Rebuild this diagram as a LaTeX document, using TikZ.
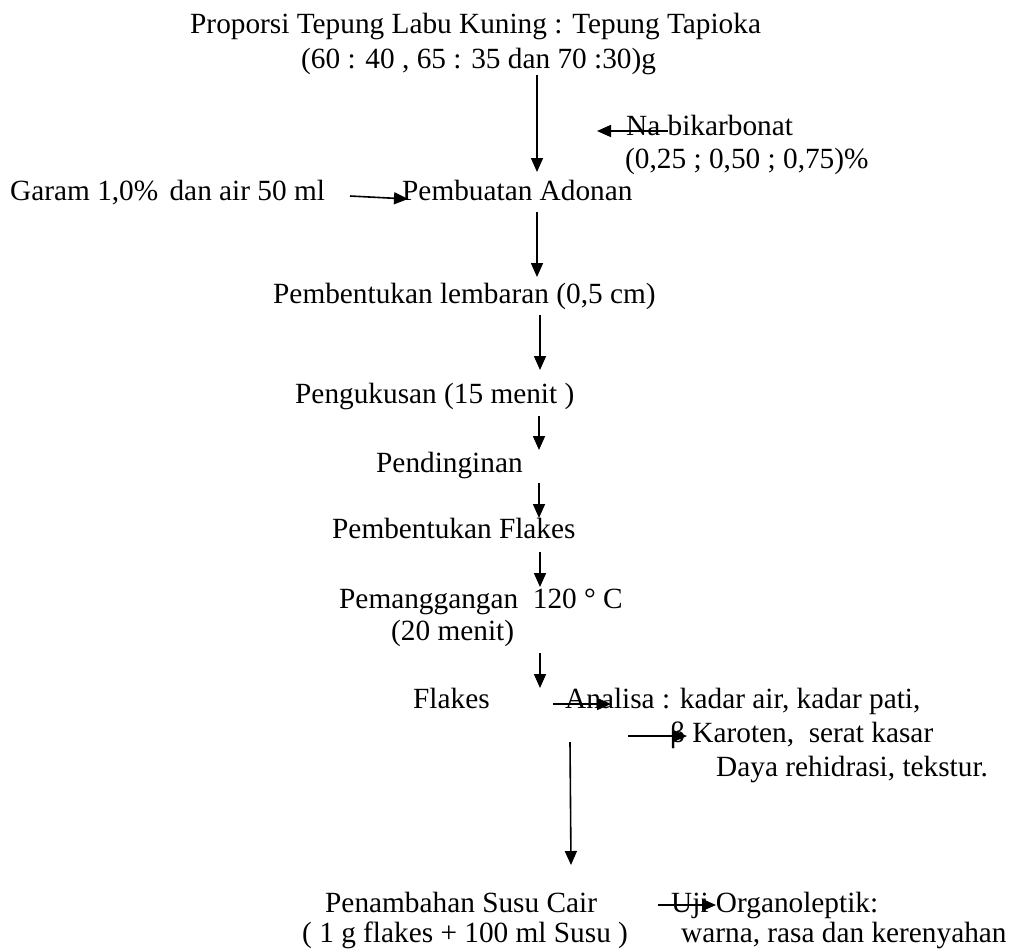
\documentclass[tikz,border=0pt]{standalone}
\usepackage{fontspec}
\setmainfont{Liberation Serif}
\usetikzlibrary{arrows.meta}
\tikzset{
  txt/.style={font=\fontsize{29.3}{31}\selectfont, inner sep=0pt, anchor=base west},
  arr/.style={line width=1.6pt, -{Triangle[length=14pt,width=12pt]}}
}
\begin{document}
\begin{tikzpicture}[x=1pt,y=-1pt]
\useasboundingbox[fill=white] (0,0) rectangle (1009,951);
% texts
\node[txt] (t1) at (190,33) {Proporsi Tepung Labu Kuning : Tepung Tapioka};
\node[txt] (t2) at (301,68) {(60 : 40 , 65 : 35 dan 70 :30)g};
\node[txt] (na) at (626,135) {Na bikarbonat};
\node[txt] (na2) at (625,168) {(0,25 ; 0,50 ; 0,75)\%};
\node[txt] (garam) at (10,200) {Garam 1,0\%\hspace{4pt} dan air 50 ml};
\node[txt] (adonan) at (402,200) {Pembuatan Adonan};
\node[txt] (lembar) at (273,303) {Pembentukan lembaran (0,5 cm)};
\node[txt] (kukus) at (295,403) {Pengukusan (15 menit )};
\node[txt] (dingin) at (376,472) {Pendinginan};
\node[txt] (bflakes) at (332,538) {Pembentukan Flakes};
\node[txt] (panggang) at (339,608) {Pemanggangan\ \ 120 ° C};
\node[txt] (menit) at (391,640) {(20 menit)};
\node[txt] (flakes) at (413,708) {Flakes};
\node[txt] (analisa) at (565,708) {Analisa : kadar air, kadar pati,};
\node[txt] (karoten) at (670,742) {β Karoten,\ \ serat kasar};
\node[txt] (daya) at (716,776) {Daya rehidrasi, tekstur.};
\node[txt] (susu) at (325,912) {Penambahan Susu Cair};
\node[txt] (susu2) at (302,942) {( 1 g flakes + 100 ml Susu )};
\node[txt] (uji) at (671,912) {Uji Organoleptik:};
\node[txt] (uji2) at (681,942) {warna, rasa dan kerenyahan};
% arrow end points
\coordinate (a1s) at (537,75);   \coordinate (a1e) at (537,172);
\coordinate (nas) at (668,131);  \coordinate (nae) at (597,131);
\coordinate (gs) at (350,196);   \coordinate (ge) at (408,199);
\coordinate (a2s) at (537,212);  \coordinate (a2e) at (537,277);
\coordinate (a3s) at (540,315);  \coordinate (a3e) at (540,370);
\coordinate (a4s) at (539,416);  \coordinate (a4e) at (539,450);
\coordinate (a5s) at (539,483);  \coordinate (a5e) at (539,518);
\coordinate (a6s) at (540,552);  \coordinate (a6e) at (540,587);
\coordinate (a7s) at (540,653);  \coordinate (a7e) at (540,688);
\coordinate (fas) at (553,704);  \coordinate (fae) at (611,704);
\coordinate (kas) at (628,736);  \coordinate (kae) at (687,736);
\coordinate (a8s) at (570,742);  \coordinate (a8e) at (571,865);
\coordinate (us) at (658,905);   \coordinate (ue) at (716,905);
% arrows
\draw[arr] (a1s) -- (a1e);
\draw[arr] (nas) -- (nae);
\draw[arr] (gs) -- (ge);
\draw[arr] (a2s) -- (a2e);
\draw[arr] (a3s) -- (a3e);
\draw[arr] (a4s) -- (a4e);
\draw[arr] (a5s) -- (a5e);
\draw[arr] (a6s) -- (a6e);
\draw[arr] (a7s) -- (a7e);
\draw[arr] (fas) -- (fae);
\draw[arr] (kas) -- (kae);
\draw[arr] (a8s) -- (a8e);
\draw[arr] (us) -- (ue);
\end{tikzpicture}
\end{document}
